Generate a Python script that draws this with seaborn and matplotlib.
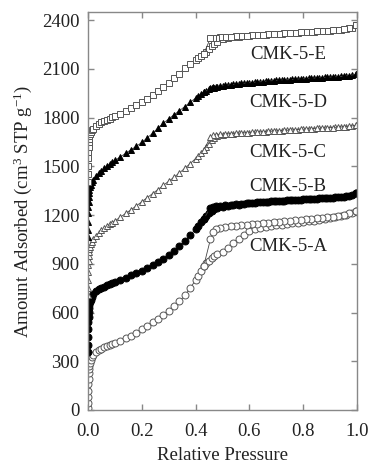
import matplotlib
matplotlib.use("Agg")
import matplotlib.pyplot as plt
import seaborn as sns
import pandas as pd

# ---------------- data ----------------
P_ads = [0.0001, 0.0003, 0.0006, 0.001, 0.0015, 0.002, 0.003, 0.004, 0.005, 0.007, 0.01, 0.015,
         0.02, 0.03, 0.04, 0.05, 0.06, 0.07, 0.08, 0.09, 0.10,
         0.12, 0.14, 0.16, 0.18, 0.20, 0.22, 0.24, 0.26, 0.28, 0.30, 0.32, 0.34, 0.36, 0.38, 0.40,
         0.41, 0.42, 0.43, 0.44, 0.45, 0.46, 0.47, 0.48,
         0.50, 0.52, 0.54, 0.56, 0.58, 0.60, 0.62, 0.64, 0.66, 0.68, 0.70, 0.72, 0.74, 0.76, 0.78,
         0.80, 0.82, 0.84, 0.86, 0.88, 0.90, 0.92, 0.94, 0.96, 0.98, 0.995]

P_des = [0.995, 0.97,
         0.95, 0.93, 0.91, 0.89, 0.87, 0.85, 0.83, 0.81, 0.79, 0.77, 0.75, 0.73,
         0.71, 0.69, 0.67, 0.65, 0.63, 0.61, 0.59, 0.57, 0.55, 0.53, 0.51, 0.49,
         0.475, 0.465, 0.455, 0.43]

A_ads = [15, 45, 80, 120, 160, 190, 225, 250, 270, 290, 310, 328,
         340, 356, 367, 377, 385, 393, 400, 407, 414,
         427, 441, 456, 475, 496, 517, 540, 563, 587, 612, 640, 668, 705, 750, 800,
         825, 855, 885, 905, 920, 935, 945, 958,
         975, 1000, 1028, 1055, 1080, 1100, 1113, 1122, 1128, 1133, 1137, 1141, 1145, 1149, 1153,
         1157, 1161, 1165, 1170, 1175, 1180, 1186, 1193, 1202, 1213, 1228]
A_des = [1228, 1212,
         1203, 1196, 1191, 1187, 1183, 1180, 1177, 1174, 1171, 1168, 1165, 1162,
         1159, 1156, 1153, 1150, 1147, 1144, 1141, 1138, 1135, 1131, 1127, 1122,
         1112, 1095, 1050, 885]

B_ads = [360, 400, 450, 500, 540, 570, 605, 630, 648, 665, 680, 695,
         712, 730, 742, 752, 760, 768, 775, 782, 790,
         802, 815, 828, 842, 857, 873, 890, 910, 932, 955, 980, 1008, 1040, 1075, 1115,
         1135, 1155, 1175, 1195, 1212, 1225, 1235, 1242,
         1250, 1256, 1261, 1265, 1269, 1273, 1276, 1279, 1282, 1285, 1287, 1289, 1291, 1293, 1295,
         1297, 1299, 1301, 1303, 1305, 1307, 1310, 1313, 1317, 1323, 1335]
B_des = [1335, 1320,
         1314, 1310, 1307, 1305, 1303, 1301, 1299, 1297, 1295, 1293, 1291, 1289,
         1287, 1285, 1283, 1281, 1278, 1275, 1272, 1269, 1266, 1263, 1260, 1257,
         1253, 1250, 1246, 1175]

C_ads = [710, 750, 800, 850, 890, 920, 950, 975, 990, 1005, 1020, 1035,
         1050, 1072, 1090, 1105, 1118, 1130, 1142, 1153, 1164,
         1187, 1210, 1233, 1257, 1282, 1307, 1332, 1357, 1383, 1408, 1433, 1460, 1488, 1517, 1548,
         1563, 1580, 1598, 1618, 1640, 1660, 1675, 1685,
         1692, 1697, 1700, 1703, 1706, 1708, 1710, 1712, 1714, 1716, 1718, 1720, 1722, 1724, 1726,
         1728, 1730, 1732, 1734, 1736, 1738, 1740, 1742, 1744, 1746, 1752]
C_des = [1752, 1746,
         1743, 1741, 1739, 1737, 1735, 1733, 1731, 1729, 1727, 1725, 1723, 1721,
         1719, 1717, 1715, 1713, 1711, 1709, 1707, 1705, 1703, 1701, 1699, 1697,
         1694, 1690, 1680, 1598]

D_ads = [1065, 1110, 1160, 1210, 1250, 1280, 1310, 1335, 1352, 1370, 1388, 1405,
         1418, 1440, 1458, 1473, 1487, 1500, 1512, 1524, 1536,
         1558, 1580, 1602, 1624, 1647, 1675, 1703, 1735, 1765, 1792, 1818, 1843, 1868, 1895, 1920,
         1932, 1944, 1955, 1965, 1974, 1980, 1985, 1989,
         1995, 2000, 2004, 2008, 2012, 2015, 2018, 2021, 2024, 2027, 2029, 2031, 2033, 2035, 2037,
         2039, 2041, 2043, 2045, 2047, 2049, 2051, 2054, 2057, 2060, 2066]
D_des = [2066, 2059,
         2055, 2052, 2050, 2048, 2046, 2044, 2042, 2040, 2038, 2036, 2034, 2032,
         2030, 2028, 2025, 2022, 2019, 2016, 2013, 2010, 2006, 2002, 1998, 1994,
         1990, 1986, 1980, 1955]

E_ads = [1405, 1450, 1500, 1550, 1590, 1620, 1650, 1670, 1685, 1698, 1710, 1722,
         1732, 1748, 1760, 1770, 1778, 1786, 1794, 1801, 1808,
         1824, 1840, 1858, 1876, 1895, 1917, 1940, 1964, 1990, 2016, 2043, 2070, 2105, 2130, 2155,
         2167, 2180, 2192, 2205, 2220, 2238, 2255, 2268,
         2282, 2290, 2295, 2299, 2302, 2305, 2307, 2309, 2311, 2313, 2315, 2317, 2319, 2321, 2323,
         2325, 2327, 2329, 2331, 2333, 2335, 2338, 2341, 2345, 2352, 2372]
E_des = [2372, 2350,
         2344, 2340, 2337, 2335, 2333, 2331, 2329, 2327, 2325, 2323, 2321, 2319,
         2317, 2315, 2313, 2311, 2309, 2307, 2305, 2303, 2301, 2299, 2297, 2295,
         2293, 2291, 2288, 2192]

samples = ["CMK-5-A", "CMK-5-B", "CMK-5-C", "CMK-5-D", "CMK-5-E"]
ads_values = [A_ads, B_ads, C_ads, D_ads, E_ads]
des_values = [A_des, B_des, C_des, D_des, E_des]
label_x = [0.743, 0.743, 0.743, 0.743, 0.743]
label_y = [1005, 1375, 1584, 1893, 2189]
x_ticks = [0.0, 0.2, 0.4, 0.6, 0.8, 1.0]
y_ticks = [0, 300, 600, 900, 1200, 1500, 1800, 2100, 2400]

# ---------------- style ----------------
sns.set_theme(style="ticks")
plt.rcParams["font.family"] = ["Liberation Serif", "DejaVu Serif"]
plt.rcParams["mathtext.fontset"] = "custom"
plt.rcParams["mathtext.rm"] = "Liberation Serif"
plt.rcParams["mathtext.it"] = "Liberation Serif:italic"

styles = {
    "CMK-5-A": dict(marker="o", ms=5.0, mfc="white", mec="#555555"),
    "CMK-5-B": dict(marker="o", ms=5.0, mfc="black", mec="black"),
    "CMK-5-C": dict(marker="^", ms=4.8, mfc="white", mec="#555555"),
    "CMK-5-D": dict(marker="^", ms=5.0, mfc="black", mec="black"),
    "CMK-5-E": dict(marker="s", ms=4.3, mfc="white", mec="#555555"),
}

fig = plt.figure(figsize=(3.68, 4.66), dpi=100)
ax = fig.add_axes([88 / 368, 56 / 466, 269 / 368, 398 / 466])

for name, ya, yd in zip(samples, ads_values, des_values):
    st = styles[name]
    for px, py in ((P_ads, ya), (P_des, yd)):
        df = pd.DataFrame({"p": px, "v": py})
        sns.lineplot(data=df, x="p", y="v", ax=ax, sort=False, estimator=None,
                     color="#444444", linewidth=0.6,
                     marker=st["marker"], markersize=st["ms"],
                     markerfacecolor=st["mfc"], markeredgecolor=st["mec"],
                     markeredgewidth=0.7, legend=False)

for name, lx, ly in zip(samples, label_x, label_y):
    ax.text(lx, ly, name, ha="center", va="center", fontsize=13.5, color="#222222")

ax.set_xlim(0.0, 1.0)
ax.set_ylim(0, 2450)
ax.set_xticks(x_ticks)
ax.set_xticklabels([f"{t:.1f}" for t in x_ticks])
ax.set_yticks(y_ticks)
ax.set_yticklabels([str(t) for t in y_ticks])

for s in ax.spines.values():
    s.set_visible(True)
    s.set_color("#888888")
    s.set_linewidth(1.0)
ax.tick_params(axis="both", which="major", direction="in", length=4, width=1.0,
               color="#888888", labelsize=13.5, labelcolor="#222222",
               top=True, right=True)
ax.tick_params(axis="x", pad=9)
ax.tick_params(axis="y", pad=6)

ax.set_xlabel("Relative Pressure", fontsize=13.5, color="#222222")
ax.set_ylabel("Amount Adsorbed (cm$^{3}$ STP g$^{-1}$)", fontsize=13.5, color="#222222")
ax.xaxis.set_label_coords(0.5, -0.092)
ax.yaxis.set_label_coords(-0.20, 0.5)

fig.savefig("out.png", dpi=100)
